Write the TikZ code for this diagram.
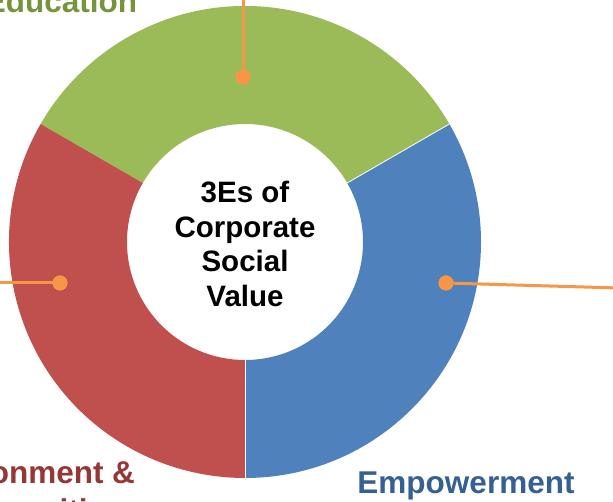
\documentclass[tikz,border=0pt]{standalone}
\usepackage{fontspec}
\setmainfont{Liberation Sans}
\usetikzlibrary{calc}
\definecolor{segG}{HTML}{9BBB59}
\definecolor{segR}{HTML}{C0504D}
\definecolor{segB}{HTML}{4F81BD}
\definecolor{txtG}{HTML}{77933C}
\definecolor{txtR}{HTML}{953735}
\definecolor{txtB}{HTML}{376092}
\definecolor{lead}{HTML}{F79646}
\begin{document}
\begin{tikzpicture}[x=1pt,y=1pt,
  seg/.style={draw=white, line width=0.8pt},
  leader/.style={draw=lead, line width=3pt},
  dot/.style={circle, fill=lead, inner sep=0pt, minimum size=15pt},
  lab/.style={font=\fontsize{31.5}{38}\selectfont\bfseries, inner sep=0pt, anchor=base},
  ctr/.style={font=\fontsize{29.5}{34.8}\selectfont\bfseries, align=center, inner sep=0pt}]
\useasboundingbox (0,0) rectangle (613,502);
\clip (0,0) rectangle (613,502);
\coordinate (c) at (245,260);
% segments
\fill[segG] ($(c)+(30:236)$) arc[start angle=30, end angle=150, radius=236]
   -- ($(c)+(150:118)$) arc[start angle=150, end angle=30, radius=118] -- cycle;
\fill[segR] ($(c)+(150:236)$) arc[start angle=150, end angle=270, radius=236]
   -- ($(c)+(270:118)$) arc[start angle=270, end angle=150, radius=118] -- cycle;
\fill[segB] ($(c)+(-90:236)$) arc[start angle=-90, end angle=30, radius=236]
   -- ($(c)+(30:118)$) arc[start angle=30, end angle=-90, radius=118] -- cycle;
\draw[seg] ($(c)+(30:118)$) -- ($(c)+(30:236)$);
\draw[seg] ($(c)+(270:118)$) -- ($(c)+(270:236)$);
% centre text
\node[ctr] (title) at (245,258) {3Es of\\Corporate\\Social\\Value};
% leaders
\coordinate (eEdu) at (243,510);
\coordinate (eEnv) at (-5,219);
\coordinate (eEmp) at (618,214);
\node[dot] (dEdu) at (243,425) {};
\node[dot] (dEnv) at (60,219) {};
\node[dot] (dEmp) at (446,219) {};
\draw[leader] (dEdu.center) -- (eEdu);
\draw[leader] (dEnv.center) -- (eEnv);
\draw[leader] (dEmp.center) -- (eEmp);
\node[dot] at (dEdu) {};
\node[dot] at (dEnv) {};
\node[dot] at (dEmp) {};
% labels
\node[lab, text=txtG] (lEdu) at (61,489) {Education};
\node[lab, text=txtR] (lEnv1) at (23,18) {Environment \&};
\node[lab, text=txtR] (lEnv2) at (23,-20) {Communities};
\node[lab, text=txtB] (lEmp) at (466,8) {Empowerment};
\end{tikzpicture}
\end{document}
